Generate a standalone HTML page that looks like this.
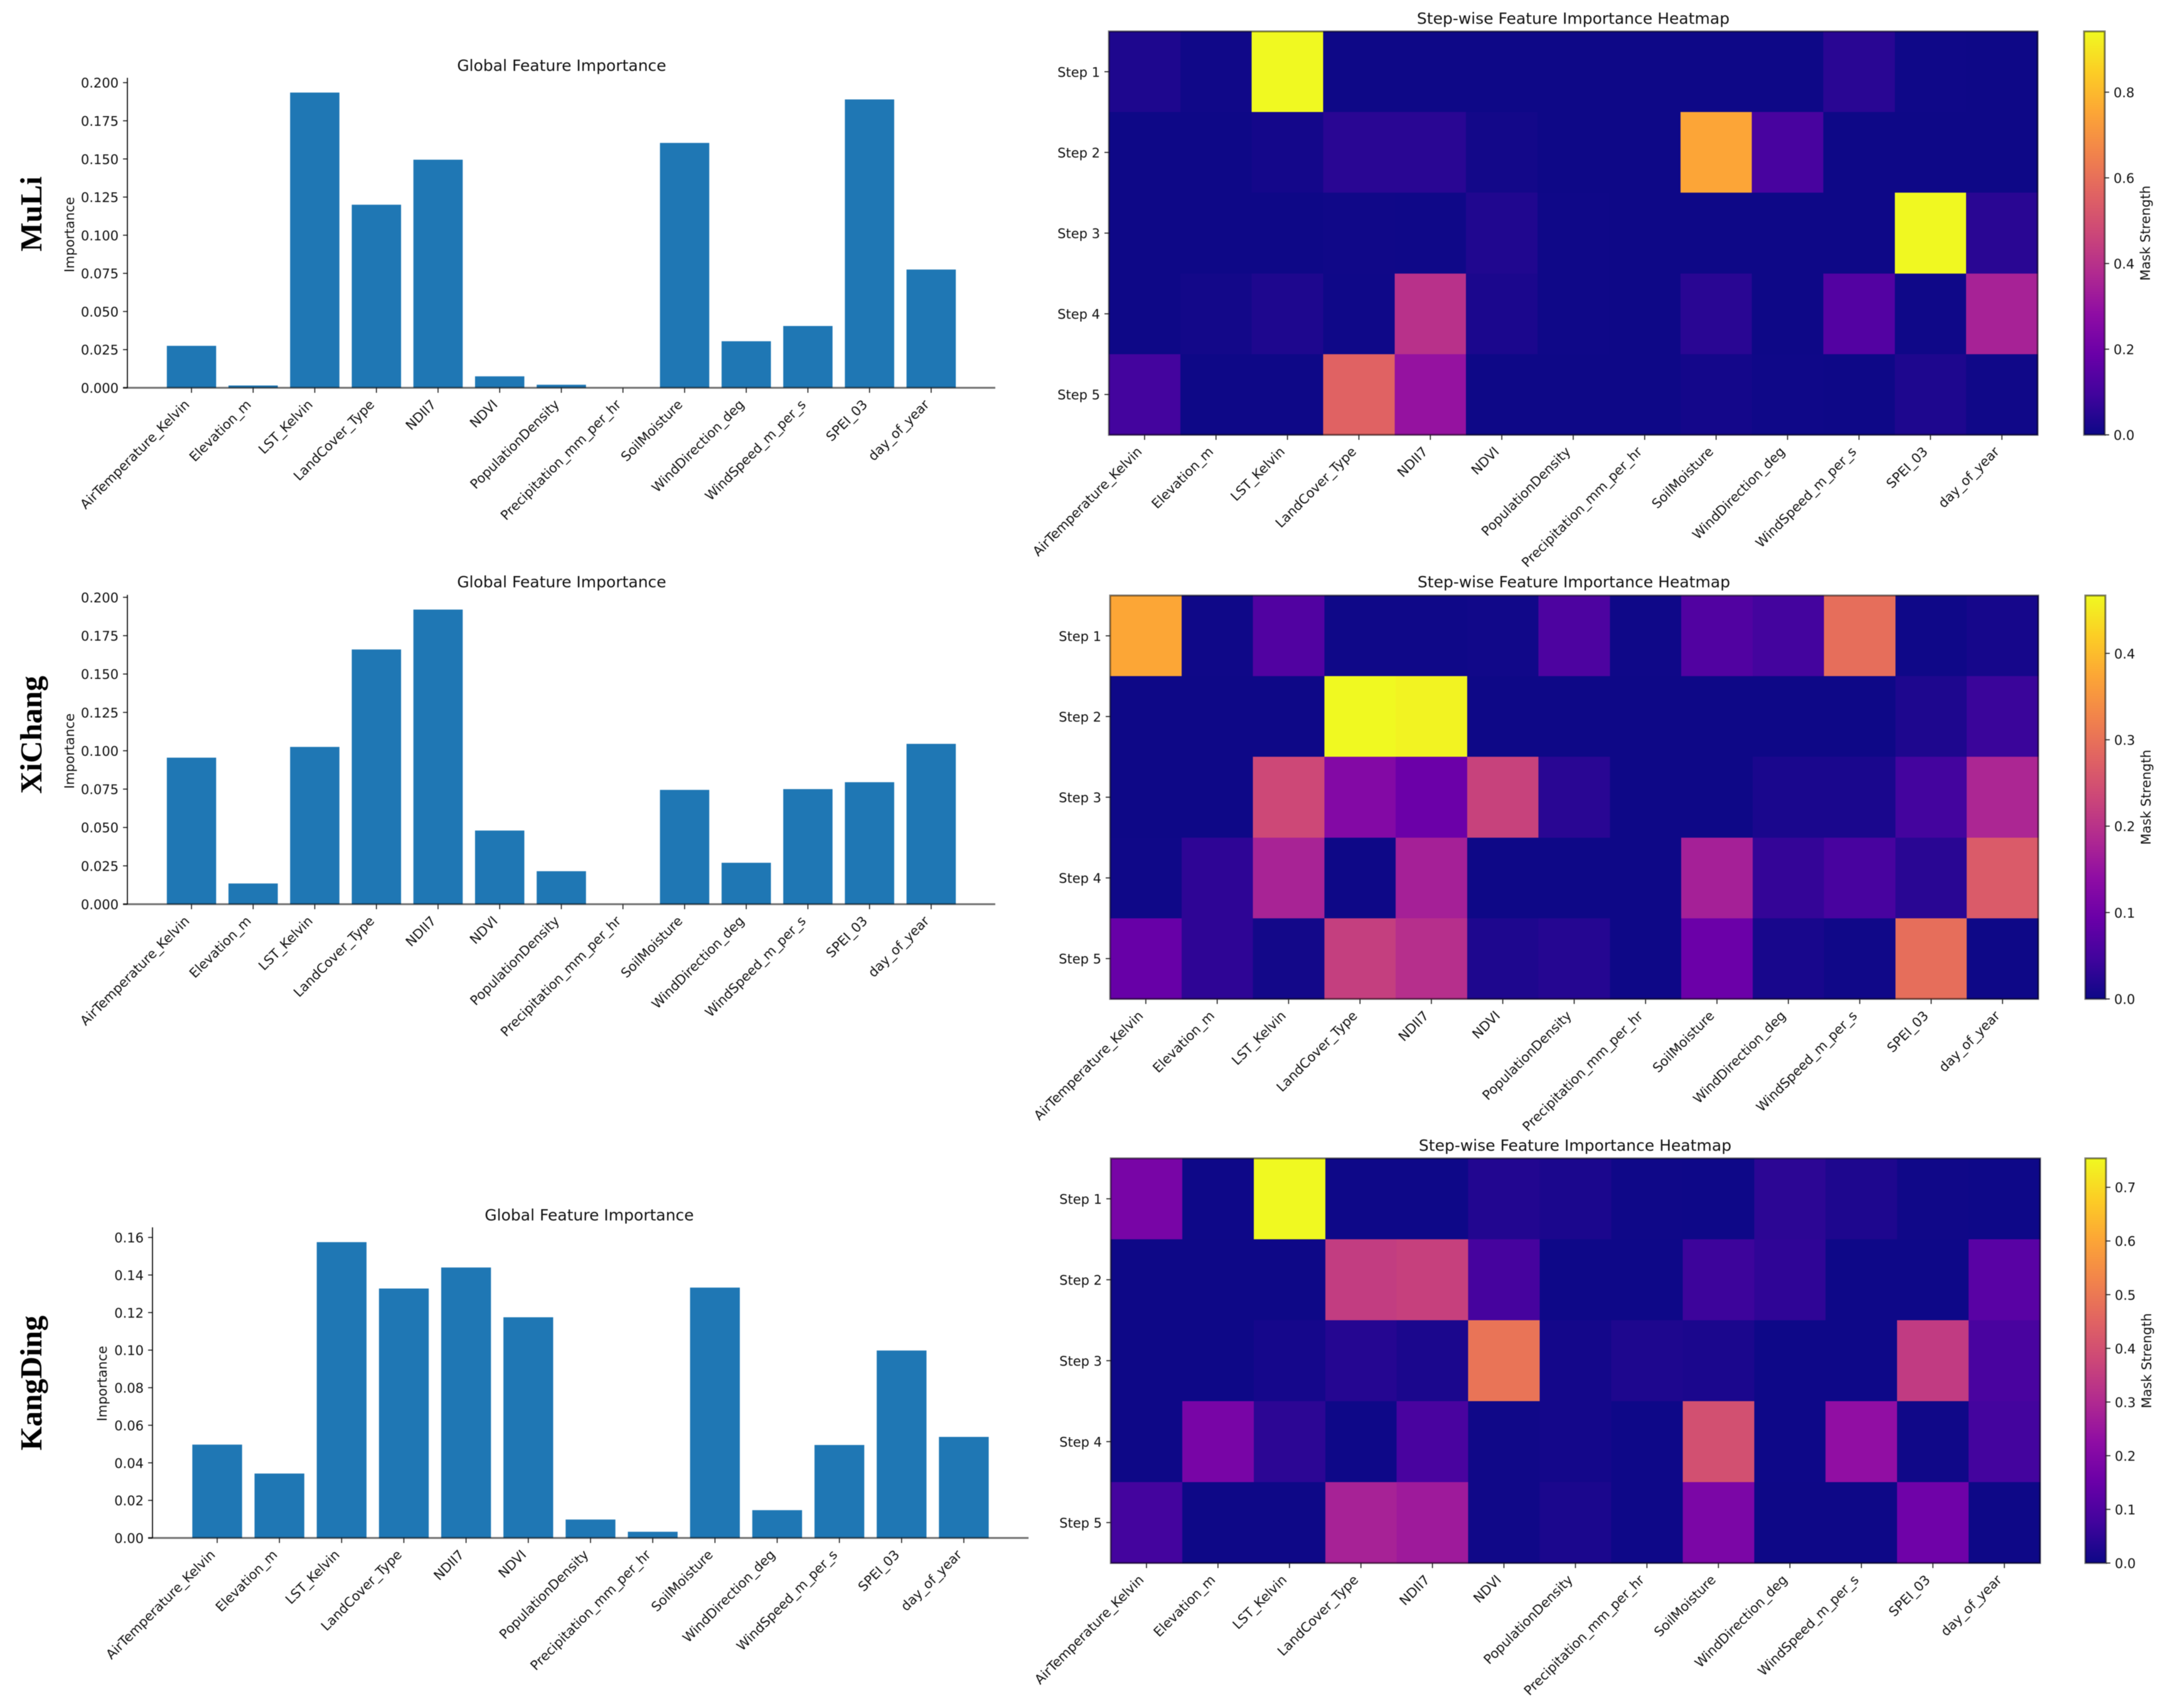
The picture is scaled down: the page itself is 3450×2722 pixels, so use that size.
<!DOCTYPE html>
<html lang="en">
<head>
<meta charset="utf-8">
<title>Feature importance by site</title>
<style>
html,body{margin:0;padding:0;background:#fff;}
svg{display:block;filter:blur(0.6px);}
text{font-family:"DejaVu Sans","Liberation Sans",sans-serif;fill:#111;}
.site{font-family:"Liberation Serif",serif;font-weight:bold;font-size:49px;fill:#000;}
</style>
</head>
<body>
<svg id="figure" xmlns="http://www.w3.org/2000/svg" width="3450" height="2722" viewBox="0 0 3450 2722">
<rect x="0" y="0" width="3450" height="2722" fill="#ffffff"/>
</svg>
<script>
const features = ["AirTemperature_Kelvin","Elevation_m","LST_Kelvin","LandCover_Type","NDII7","NDVI","PopulationDensity","Precipitation_mm_per_hr","SoilMoisture","WindDirection_deg","WindSpeed_m_per_s","SPEI_03","day_of_year"];
const stepLabels = ["Step 1","Step 2","Step 3","Step 4","Step 5"];

const muliImportance = [0.0275,0.0015,0.1935,0.120,0.1495,0.0075,0.002,0,0.1605,0.0305,0.0405,0.189,0.0775];
const xichangImportance = [0.0955,0.0135,0.1025,0.166,0.192,0.048,0.0215,0,0.0745,0.027,0.075,0.0795,0.1045];
const kangdingImportance = [0.0497,0.0343,0.1575,0.1328,0.144,0.1175,0.0098,0.0033,0.1333,0.0148,0.0495,0.0998,0.0538];

const muliImportanceTicks = ["0.000","0.025","0.050","0.075","0.100","0.125","0.150","0.175","0.200"];
const xichangImportanceTicks = ["0.000","0.025","0.050","0.075","0.100","0.125","0.150","0.175","0.200"];
const kangdingImportanceTicks = ["0.00","0.02","0.04","0.06","0.08","0.10","0.12","0.14","0.16"];

const muliHeat = [
  [0.03,0.005,0.942,0.002,0.002,0.002,0.002,0.002,0.002,0.002,0.05,0.004,0.002],
  [0.002,0.002,0.012,0.05,0.05,0.01,0.002,0.002,0.75,0.11,0.002,0.002,0.002],
  [0.002,0.002,0.002,0.005,0.004,0.035,0.003,0.002,0.002,0.002,0.002,0.94,0.05],
  [0.002,0.01,0.03,0.004,0.40,0.025,0.003,0.002,0.05,0.002,0.135,0.004,0.35],
  [0.10,0.002,0.002,0.56,0.30,0.002,0.002,0.002,0.012,0.004,0.002,0.03,0.005]
];
const xichangHeat = [
  [0.373,0.002,0.065,0.002,0.002,0.004,0.06,0.002,0.065,0.05,0.295,0.002,0.008],
  [0.001,0.001,0.001,0.467,0.46,0.001,0.001,0.001,0.001,0.001,0.001,0.015,0.04],
  [0.001,0.001,0.235,0.125,0.095,0.225,0.025,0.001,0.001,0.012,0.012,0.05,0.18],
  [0.002,0.03,0.175,0.001,0.17,0.001,0.001,0.001,0.17,0.035,0.055,0.025,0.265],
  [0.09,0.03,0.005,0.22,0.195,0.015,0.022,0.001,0.095,0.01,0.003,0.295,0.001]
];
const kangdingHeat = [
  [0.18,0.002,0.754,0.002,0.002,0.03,0.02,0.003,0.002,0.045,0.025,0.005,0.002],
  [0.001,0.001,0.001,0.35,0.36,0.085,0.002,0.002,0.07,0.05,0.002,0.002,0.12],
  [0.001,0.001,0.012,0.035,0.02,0.49,0.01,0.025,0.02,0.002,0.002,0.345,0.09],
  [0.001,0.18,0.045,0.002,0.09,0.005,0.01,0.002,0.40,0.002,0.23,0.005,0.08],
  [0.08,0.001,0.001,0.28,0.26,0.004,0.02,0.002,0.185,0.001,0.001,0.16,0.001]
];

const muliColorbarTicks = ["0.0","0.2","0.4","0.6","0.8"];
const xichangColorbarTicks = ["0.0","0.1","0.2","0.3","0.4"];
const kangdingColorbarTicks = ["0.0","0.1","0.2","0.3","0.4","0.5","0.6","0.7"];

const plasmaRamp = ["#0d0887","#41049d","#6a00a8","#8f0da4","#b12a90","#cc4778","#e16462","#f2844b","#fca636","#fcce25","#f0f921"];

const NS = "http://www.w3.org/2000/svg";
const figure = document.getElementById("figure");

function make(tag, attrs, parent) {
  const node = document.createElementNS(NS, tag);
  for (const key in attrs) node.setAttribute(key, attrs[key]);
  parent.appendChild(node);
  return node;
}
function hexToRgb(h) {
  return [parseInt(h.slice(1,3),16), parseInt(h.slice(3,5),16), parseInt(h.slice(5,7),16)];
}
function plasma(t) {
  const clamped = Math.max(0, Math.min(1, t));
  const pos = clamped * (plasmaRamp.length - 1);
  const lo = Math.min(Math.floor(pos), plasmaRamp.length - 2);
  const f = pos - lo;
  const a = hexToRgb(plasmaRamp[lo]);
  const b = hexToRgb(plasmaRamp[lo + 1]);
  return "rgb(" + a.map((v, i) => Math.round(v + (b[i] - v) * f)).join(",") + ")";
}
function drawXTickLabels(group, xScale, baseY, labelShift) {
  features.forEach((name, i) => {
    const x = xScale(i);
    const tick = make("line", {x1:x, x2:x, y1:baseY, y2:baseY + 8, stroke:"#222", "stroke-width":1.6}, group);
    
    
    const lx = x + labelShift;
    const ly = baseY + 28;
    const label = make("text", {x:lx, y:ly, "font-size":21, "text-anchor":"end", transform:"rotate(-45 " + lx + " " + ly + ")"}, group);
    label.textContent = name;
    
    
  });
}

function drawBarChart(p) {
  const group = make("g", {}, figure);
  
  

  const domainMax = Math.max(...p.values) * 1.05;
  const xDomainLo = -1.04;
  const xDomainHi = features.length - 1 + 1.04;
  const xScale = i => p.left + (i - xDomainLo) / (xDomainHi - xDomainLo) * (p.right - p.left);
  const yScale = v => p.bottom - v / domainMax * (p.bottom - p.top);
  const bandWidth = xScale(1) - xScale(0);

  p.values.forEach((value, i) => {
    const yTop = yScale(value);
    const bar = make("rect", {x:xScale(i) - bandWidth * 0.4, y:yTop, width:bandWidth * 0.8, height:Math.max(0, p.bottom - yTop), fill:"#1f77b4"}, group);
    
    
  });

  p.ticks.forEach(labelText => {
    const y = yScale(parseFloat(labelText));
    const tick = make("line", {x1:p.left - 7, x2:p.left, y1:y, y2:y, stroke:"#222", "stroke-width":1.6}, group);
    
    
    const label = make("text", {x:p.left - 14, y:y + 8, "font-size":21, "text-anchor":"end"}, group);
    label.textContent = labelText;
    
    
  });

  const ySpine = make("line", {x1:p.left, x2:p.left, y1:p.top, y2:p.bottom, stroke:"#000", "stroke-width":1.6}, group);
  
  
  const xSpine = make("line", {x1:p.left - 7, x2:p.right, y1:p.bottom, y2:p.bottom, stroke:"#000", "stroke-opacity":0.55, "stroke-width":3}, group);
  
  

  drawXTickLabels(group, xScale, p.bottom, -2);

  const title = make("text", {x:p.titleX, y:p.titleY + 9, "font-size":25, "text-anchor":"middle"}, group);
  title.textContent = "Global Feature Importance";
  
  

  const yTitle = make("text", {x:p.yTitleX, y:p.yTitleY, "font-size":21, "text-anchor":"middle", transform:"rotate(-90 " + p.yTitleX + " " + p.yTitleY + ")", "dominant-baseline":"central"}, group);
  yTitle.textContent = "Importance";
  
  

  const site = make("text", {x:p.siteX, y:p.siteY, class:"site", "text-anchor":"middle", transform:"rotate(-90 " + p.siteX + " " + p.siteY + ")"}, figure);
  site.textContent = p.site;
  
  
}

function drawHeatmap(h) {
  const group = make("g", {}, figure);
  
  

  const vmax = Math.max(...h.matrix.flat());
  const colScale = i => h.left + i * (h.right - h.left) / features.length;
  const rowScale = j => h.top + j * (h.bottom - h.top) / stepLabels.length;
  const colWidth = colScale(1) - colScale(0);
  const rowHeight = rowScale(1) - rowScale(0);

  h.matrix.forEach((row, j) => {
    row.forEach((value, i) => {
      const cell = make("rect", {x:colScale(i), y:rowScale(j), width:colWidth + 0.5, height:rowHeight + 0.5, fill:plasma(value / vmax), "shape-rendering":"crispEdges"}, group);
      
      
    });
  });

  const frame = make("rect", {x:h.left, y:h.top, width:h.right - h.left, height:h.bottom - h.top, fill:"none", stroke:"#000", "stroke-opacity":0.5, "stroke-width":3}, group);
  
  

  stepLabels.forEach((name, j) => {
    const y = rowScale(j) + rowHeight / 2;
    const tick = make("line", {x1:h.left - 7, x2:h.left, y1:y, y2:y, stroke:"#222", "stroke-width":1.6}, group);
    
    
    const label = make("text", {x:h.left - 14, y:y + 8, "font-size":21, "text-anchor":"end"}, group);
    label.textContent = name;
    
    
  });

  drawXTickLabels(group, i => colScale(i) + colWidth / 2, h.bottom, -3);

  const title = make("text", {x:h.titleX, y:h.titleY + 9, "font-size":25, "text-anchor":"middle"}, group);
  title.textContent = "Step-wise Feature Importance Heatmap";
  
  

  const defs = make("defs", {}, group);
  const gradient = make("linearGradient", {id:h.slug + "-plasma", x1:0, y1:1, x2:0, y2:0}, defs);
  plasmaRamp.forEach((color, k) => {
    make("stop", {offset:k / (plasmaRamp.length - 1), "stop-color":color}, gradient);
  });
  const colorbar = make("rect", {x:h.cbLeft, y:h.top, width:h.cbRight - h.cbLeft, height:h.bottom - h.top, fill:"url(#" + h.slug + "-plasma)", stroke:"#000", "stroke-opacity":0.5, "stroke-width":3}, group);
  
  

  const cbScale = v => h.bottom - v / vmax * (h.bottom - h.top);
  h.cbTicks.forEach(labelText => {
    const y = cbScale(parseFloat(labelText));
    const tick = make("line", {x1:h.cbRight, x2:h.cbRight + 7, y1:y, y2:y, stroke:"#222", "stroke-width":1.6}, group);
    
    
    const label = make("text", {x:h.cbRight + 14, y:y + 8, "font-size":21}, group);
    label.textContent = labelText;
    
    
  });

  const midY = (h.top + h.bottom) / 2;
  const cbX = h.cbRight + 65;
  const cbTitle = make("text", {x:cbX, y:midY, "font-size":21, "text-anchor":"middle", "dominant-baseline":"central", transform:"rotate(-90 " + cbX + " " + midY + ")"}, group);
  cbTitle.textContent = "Mask Strength";
  
  
}

drawBarChart({slug:"muli", site:"MuLi", values:muliImportance, ticks:muliImportanceTicks, left:203, right:1586, top:124, bottom:618, titleX:895, titleY:104, yTitleX:111, yTitleY:374, siteX:66, siteY:341});
drawBarChart({slug:"xichang", site:"XiChang", values:xichangImportance, ticks:xichangImportanceTicks, left:203, right:1586, top:948, bottom:1441, titleX:895, titleY:927, yTitleX:111, yTitleY:1197, siteX:66, siteY:1171});
drawBarChart({slug:"kangding", site:"KangDing", values:kangdingImportance, ticks:kangdingImportanceTicks, left:243, right:1639, top:1956, bottom:2451, titleX:939, titleY:1936, yTitleX:163, yTitleY:2205, siteX:66, siteY:2204});

drawHeatmap({slug:"muli", matrix:muliHeat, cbTicks:muliColorbarTicks, left:1767, right:3247, top:50, bottom:693, cbLeft:3321, cbRight:3354, titleX:2507, titleY:29});
drawHeatmap({slug:"xichang", matrix:xichangHeat, cbTicks:xichangColorbarTicks, left:1769, right:3248, top:949, bottom:1592, cbLeft:3323, cbRight:3355, titleX:2508, titleY:927});
drawHeatmap({slug:"kangding", matrix:kangdingHeat, cbTicks:kangdingColorbarTicks, left:1770, right:3251, top:1846, bottom:2491, cbLeft:3323, cbRight:3356, titleX:2510, titleY:1825});
</script>
</body>
</html>
